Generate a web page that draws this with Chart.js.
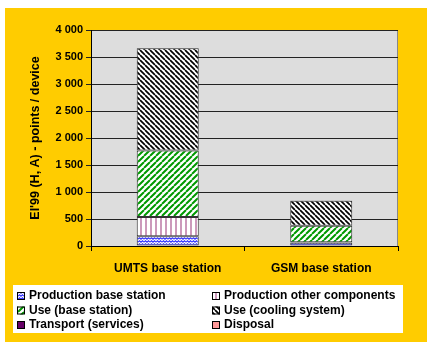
<!DOCTYPE html>
<html>
<head>
<meta charset="utf-8">
<script src="https://cdn.jsdelivr.net/npm/chart.js@4/dist/chart.umd.min.js"></script>
<style>
  html, body { margin: 0; padding: 0; background: #ffffff; }
  #wrap { width: 431px; height: 345px; }
</style>
</head>
<body>
<div id="wrap"><canvas id="c" width="431" height="345"></canvas></div>
<script>
// Eco-indicator 99 scores per device, split by life-cycle stage
const categories = ['UMTS base station', 'GSM base station'];
const seriesNames = [
  'Production base station',
  'Production other components',
  'Use (base station)',
  'Use (cooling system)',
  'Transport (services)',
  'Disposal'
];
const productionBaseStation = [180, 60];
const productionOtherComponents = [357, 8];
const useBaseStation = [1233, 308];
const useCoolingSystem = [1890, 463];
const transportServices = [5, 2];
const disposal = [2, 1];
const yTicks = [0, 500, 1000, 1500, 2000, 2500, 3000, 3500, 4000];

const FONT = "'Liberation Sans', Arial, sans-serif";

// Fill patterns for the hatched segments
function pattern(kind) {
  const c = document.createElement('canvas');
  const x = c.getContext('2d');
  if (kind === 'wave') {
    c.width = 6; c.height = 3;
    x.fillStyle = '#fff'; x.fillRect(0, 0, 6, 3);
    x.strokeStyle = '#2a2aff'; x.lineWidth = 1.1;
    x.beginPath();
    x.moveTo(0, 2.2); x.lineTo(1.5, 0.8); x.lineTo(3, 2.2); x.lineTo(4.5, 0.8); x.lineTo(6, 2.2);
    x.stroke();
  } else if (kind === 'vstripe') {
    c.width = 5; c.height = 5;
    x.fillStyle = '#fff'; x.fillRect(0, 0, 5, 5);
    x.fillStyle = '#cc99bb'; x.fillRect(0, 0, 2, 5);
  } else {
    const s = kind === 'green' ? 6 : 5;
    c.width = s; c.height = s;
    x.fillStyle = '#fff'; x.fillRect(0, 0, s, s);
    x.strokeStyle = kind === 'green' ? '#009900' : '#000000';
    x.lineWidth = kind === 'green' ? 2 : 1.7;
    x.beginPath();
    for (let k = -1; k <= 1; k++) {
      if (kind === 'green') { x.moveTo(k * s, s); x.lineTo(k * s + s, 0); }
      else { x.moveTo(k * s, 0); x.lineTo(k * s + s, s); }
    }
    x.stroke();
  }
  return x.createPattern(c, 'repeat');
}

const fills = [
  pattern('wave'),
  pattern('vstripe'),
  pattern('green'),
  pattern('black'),
  '#660066',
  '#ff9999'
];
const values = [productionBaseStation, productionOtherComponents, useBaseStation,
  useCoolingSystem, transportServices, disposal];

const datasets = seriesNames.map((name, i) => ({
  label: name,
  data: values[i],
  backgroundColor: fills[i],
  borderColor: '#333333',
  borderWidth: 1,
  borderSkipped: false,
  categoryPercentage: 1,
  barPercentage: 0.404
}));

function fmt(v) {
  return String(v).replace(/\B(?=(\d{3})+(?!\d))/g, ' ');
}

const frame = {
  id: 'frame',
  beforeDraw(chart) {
    const { ctx, chartArea: a } = chart;
    ctx.save();
    ctx.fillStyle = '#ffffff';
    ctx.fillRect(0, 0, chart.width, chart.height);
    ctx.fillStyle = '#ffcc00';
    ctx.fillRect(5, 8, 422, 334);
    ctx.fillStyle = '#dddddd';
    ctx.fillRect(a.left, a.top, a.right - a.left, a.bottom - a.top);
    ctx.strokeStyle = '#888888';
    ctx.lineWidth = 1;
    ctx.beginPath();
    ctx.moveTo(Math.round(a.right) - 0.5, a.top);
    ctx.lineTo(Math.round(a.right) - 0.5, a.bottom);
    ctx.stroke();
    ctx.restore();
  },
  afterDraw(chart) {
    // two-column legend in a white box under the axis
    const ctx = chart.ctx;
    ctx.save();
    ctx.fillStyle = '#ffffff';
    ctx.fillRect(13, 285, 390, 48);
    ctx.font = 'bold 12px ' + FONT;
    ctx.textBaseline = 'middle';
    ctx.textAlign = 'left';
    const colX = [17, 212];
    const rowY = [296, 310.5, 325];
    chart.data.datasets.forEach((ds, i) => {
      const sx = colX[i % 2], cy = rowY[Math.floor(i / 2)];
      ctx.fillStyle = ds.backgroundColor;
      ctx.fillRect(sx, cy - 4, 8, 8);
      ctx.strokeStyle = '#000';
      ctx.lineWidth = 1;
      ctx.strokeRect(sx + 0.5, cy - 3.5, 7, 7);
      ctx.fillStyle = '#000';
      ctx.fillText(ds.label, sx + 12, cy);
    });
    ctx.restore();
  }
};

new Chart(document.getElementById('c'), {
  type: 'bar',
  data: { labels: categories, datasets },
  options: {
    responsive: false,
    animation: false,
    devicePixelRatio: 1,
    layout: { padding: { top: 30, right: 33, left: 0, bottom: 0 } },
    plugins: { legend: { display: false }, tooltip: { enabled: false } },
    scales: {
      x: {
        stacked: true,
        afterFit(s) { s.height = 99; },
        grid: { drawOnChartArea: false, tickLength: 5, color: '#000', offset: true },
        border: { color: '#000' },
        ticks: { color: '#000', padding: 10, font: { family: FONT, size: 12, weight: 'bold' } }
      },
      y: {
        stacked: true,
        min: 0,
        max: 4000,
        afterFit(s) { s.width = 91; },
        afterBuildTicks(s) { s.ticks = yTicks.map(v => ({ value: v })); },
        grid: { color: '#222', tickLength: 5 },
        border: { color: '#000' },
        ticks: {
          color: '#000', padding: 3,
          font: { family: FONT, size: 11, weight: 'bold' },
          callback: v => fmt(v)
        },
        title: {
          display: true,
          text: "EI'99 (H, A) - points / device",
          color: '#000',
          padding: { top: 28, bottom: 0 },
          font: { family: FONT, size: 12.5, weight: 'bold' }
        }
      }
    }
  },
  plugins: [frame]
});
</script>
</body>
</html>
